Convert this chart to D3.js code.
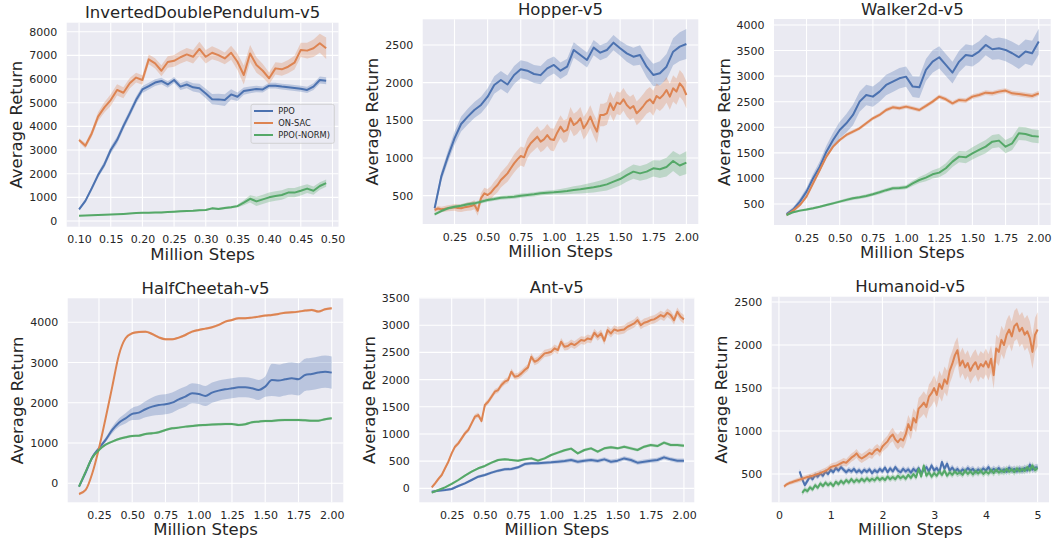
<!DOCTYPE html>
<html>
<head>
<meta charset="utf-8">
<script src="https://cdn.jsdelivr.net/npm/d3@7"></script>
<style>
  body { margin: 0; background: #fff; }
  text { font-family: "DejaVu Sans", sans-serif; fill: #262626; }
</style>
</head>
<body>
<svg id="chart" width="1056" height="546"></svg>
<script>
const ppoColor = "#4C72B0";
const sacColor = "#DD8452";
const normColor = "#55A868";
const seriesNames = ["PPO", "ON-SAC", "PPO(-NORM)"];

// regular evaluation grid (million steps)
function grid(start, step, n) {
    return d3.range(n).map(i => +(start + i * step).toFixed(4));
}

// InvertedDoublePendulum-v5 (every 0.01M from 0.10)
const idpPPO = [490, 850, 1380, 1940, 2390, 3000, 3420, 4010, 4550, 5110, 5560, 5700, 5850, 5920, 5770, 5960, 5680, 5770, 5650, 5610,
    5390, 5150, 5140, 5110, 5350, 5250, 5490, 5540, 5580, 5560, 5720, 5720, 5680, 5650, 5620, 5590, 5540, 5680, 5960, 5930];
const idpSAC = [3420, 3180, 3700, 4410, 4800, 5110, 5540, 5420, 5820, 6060, 5960, 6830, 6660, 6350, 6720, 6770, 6920, 7040, 6940, 7270,
    6940, 7110, 7010, 6870, 7110, 6730, 6170, 7080, 6590, 6350, 6030, 6450, 6410, 6520, 6690, 7230, 7200, 7300, 7510, 7300];
const idpNorm = [225, 235, 245, 255, 265, 275, 285, 300, 320, 335, 345, 350, 360, 365, 380, 395, 410, 420, 430, 460,
    465, 535, 510, 550, 580, 630, 775, 940, 830, 915, 1000, 1055, 1100, 1200, 1200, 1280, 1370, 1280, 1480, 1600];
const idpPPOSpread = [[0.10, 60], [0.15, 150], [0.20, 150], [0.25, 130], [0.30, 200], [0.33, 250], [0.36, 150], [0.40, 120], [0.45, 130], [0.49, 150]];
const idpSACSpread = [[0.10, 80], [0.15, 250], [0.20, 200], [0.25, 250], [0.29, 300], [0.33, 250], [0.36, 400], [0.40, 250], [0.45, 300], [0.48, 400], [0.49, 450]];
const idpNormSpread = [[0.10, 20], [0.30, 40], [0.35, 60], [0.38, 200], [0.45, 200], [0.49, 150]];

// Hopper-v5
const hopPPO = [332, 752, 1018, 1261, 1451, 1549, 1637, 1704, 1814, 1969, 2035, 1975, 2102, 2177, 2159, 2115, 2100, 2190, 2235, 2159,
    2212, 2434, 2367, 2301, 2465, 2398, 2434, 2531, 2456, 2389, 2345, 2367, 2212, 2102, 2124, 2212, 2411, 2478, 2513];
const hopSAC = [310, 330, 319, 325, 332, 338, 345, 335, 332, 345, 354, 362, 380, 300, 465, 531, 509, 540, 597, 642,
    708, 752, 796, 863, 929, 982, 1027, 1009, 1128, 1195, 1239, 1283, 1217, 1248, 1305, 1248, 1239, 1336, 1416, 1350,
    1372, 1527, 1438, 1469, 1527, 1394, 1460, 1549, 1438, 1350, 1571, 1571, 1593, 1726, 1637, 1735, 1717, 1779, 1704, 1659,
    1690, 1593, 1637, 1690, 1748, 1779, 1726, 1823, 1792, 1836, 1903, 1814, 1925, 1881, 1991, 1938, 1836];
const hopNorm = [252, 296, 332, 354, 367, 385, 398, 420, 442, 456, 473, 478, 487, 500, 509, 518, 531, 540, 544, 553,
    562, 575, 584, 597, 611, 628, 650, 686, 721, 774, 819, 796, 819, 863, 850, 880, 960, 900, 938];
const hopPPOSpread = [[0.1, 50], [0.3, 100], [0.6, 120], [0.9, 120], [1.2, 100], [1.5, 100], [1.75, 150], [2.0, 200]];
const hopSACSpread = [[0.1, 30], [0.4, 60], [0.7, 120], [1.0, 150], [1.5, 150], [2.0, 180]];
const hopNormSpread = [[0.1, 20], [1.0, 30], [1.4, 80], [1.7, 100], [2.0, 150]];

// Walker2d-v5
const walkPPO = [304, 396, 546, 741, 1002, 1230, 1523, 1752, 1947, 2078, 2241, 2501, 2632, 2599, 2697, 2827, 2892, 2958, 2990, 2795,
    2782, 3121, 3284, 3369, 3219, 3069, 3284, 3414, 3395, 3480, 3610, 3525, 3544, 3512, 3447, 3369, 3480, 3447, 3675];
const walkSAC = [285, 370, 480, 643, 904, 1165, 1426, 1621, 1752, 1850, 1915, 1980, 2078, 2175, 2241, 2338, 2390, 2371, 2404, 2371,
    2338, 2417, 2501, 2599, 2547, 2469, 2534, 2521, 2599, 2632, 2677, 2664, 2697, 2717, 2664, 2651, 2632, 2612, 2664];
const walkNorm = [285, 340, 370, 390, 415, 445, 480, 512, 546, 580, 611, 630, 656, 690, 728, 770, 806, 812, 826, 904,
    969, 1015, 1080, 1113, 1198, 1328, 1426, 1413, 1491, 1556, 1621, 1719, 1739, 1621, 1687, 1882, 1869, 1830, 1817];
const walkPPOSpread = [[0.1, 30], [0.4, 120], [0.6, 200], [1.0, 200], [1.2, 220], [1.6, 200], [2.0, 250]];
const walkSACSpread = [[0.1, 30], [2.0, 50]];
const walkNormSpread = [[0.1, 20], [1.0, 40], [1.3, 100], [1.6, 130], [2.0, 130]];

// HalfCheetah-v5
const hcPPO = [-83, 265, 646, 870, 1077, 1325, 1507, 1615, 1723, 1756, 1839, 1905, 1946, 1963, 2004, 2087, 2153, 2236, 2219, 2170,
    2252, 2302, 2335, 2360, 2385, 2385, 2360, 2319, 2402, 2567, 2551, 2584, 2609, 2584, 2692, 2716, 2750, 2774, 2750];
const hcSAC = [-265, -166, 248, 870, 1615, 2402, 3188, 3602, 3727, 3760, 3768, 3710, 3627, 3578, 3578, 3619, 3685, 3768, 3810, 3843,
    3876, 3934, 4017, 4058, 4099, 4099, 4116, 4141, 4166, 4182, 4207, 4240, 4248, 4265, 4290, 4306, 4265, 4323, 4348];
const hcNorm = [-83, 290, 638, 828, 961, 1035, 1101, 1143, 1176, 1184, 1225, 1242, 1267, 1325, 1366, 1383, 1408, 1424, 1441, 1449,
    1458, 1466, 1474, 1474, 1449, 1466, 1516, 1532, 1549, 1549, 1565, 1573, 1573, 1573, 1565, 1557, 1557, 1590, 1615];
const hcPPOSpread = [[0.1, 20], [0.3, 60], [0.5, 150], [0.7, 250], [1.0, 250], [1.5, 250], [1.55, 400], [2.0, 400]];
const hcSACSpread = [[0.1, 30], [2.0, 30]];
const hcNormSpread = [[0.1, 30], [2.0, 30]];

// Ant-v5
const antPPO = [-61, -43, -31, -12, 43, 92, 153, 214, 245, 288, 325, 349, 355, 386, 447, 460, 460, 472, 478, 490,
    502, 521, 490, 509, 521, 502, 533, 490, 509, 550, 521, 472, 490, 509, 521, 570, 533, 509, 509];
const antSAC = [18, 92, 172, 245, 368, 490, 643, 766, 827, 919, 1011, 1072, 1195, 1317, 1348, 1240, 1532, 1593, 1685, 1777,
    1808, 1900, 1961, 1991, 2145, 2053, 2065, 2114, 2175, 2224, 2420, 2328, 2359, 2420, 2482, 2494, 2512, 2574, 2543, 2696,
    2604, 2616, 2665, 2635, 2678, 2727, 2714, 2757, 2739, 2862, 2788, 2849, 2714, 2910, 2849, 2923, 2898, 2910, 2923, 2972,
    3002, 3033, 3094, 3002, 3045, 3064, 3094, 3107, 3143, 3186, 3156, 3229, 3186, 3094, 3247, 3156, 3107];
const antNorm = [-80, -31, 18, 80, 153, 233, 306, 368, 411, 472, 521, 533, 521, 509, 533, 551, 509, 551, 613, 656,
    700, 730, 643, 705, 735, 674, 735, 754, 735, 766, 735, 705, 766, 797, 778, 840, 797, 797, 784];
const antPPOSpread = [[0.1, 20], [1.5, 40], [2.0, 40]];
const antSACSpread = [[0.1, 30], [1.0, 70], [2.0, 80]];
const antNormSpread = [[0.1, 20], [2.0, 30]];

// Humanoid-v5 (every 0.05M)
const humPPO = [530, 440, 370, 420, 470, 440, 490, 470, 510, 480, 530, 500, 550, 520, 570, 540, 580, 550, 520, 550,
    530, 560, 520, 545, 515, 550, 525, 555, 510, 545, 520, 560, 530, 575, 520, 565, 530, 580, 540, 520,
    560, 530, 555, 515, 560, 530, 570, 510, 545, 580, 530, 600, 540, 570, 520, 640, 560, 620, 540, 575,
    530, 560, 520, 555, 530, 570, 540, 560, 520, 555, 530, 565, 540, 580, 530, 560, 535, 570, 530, 555,
    525, 575, 540, 560, 530, 565, 535, 570, 540, 610, 550, 575, 580];
const humSAC = [355, 380, 395, 405, 415, 425, 435, 445, 455, 465, 472, 480, 490, 500, 510, 525, 535, 555, 580, 590,
    595, 610, 625, 640, 630, 660, 690, 710, 740, 700, 680, 700, 720, 745, 730, 770, 790, 760, 820, 850,
    880, 930, 960, 900, 870, 910, 890, 960, 1080, 1010, 1150, 1100, 1260, 1290, 1330, 1280, 1400, 1440, 1500, 1420,
    1550, 1490, 1600, 1550, 1700, 1780, 1880, 1940, 1760, 1820, 1740, 1790, 1700, 1760, 1800, 1720, 1780, 1750, 1810, 1740,
    1840, 1650, 1960, 1920, 2060, 2000, 2120, 2180, 2100, 2220, 2250, 2160, 2200, 2120, 2160, 2080, 1920, 2120, 2180];
const humNorm = [280, 320, 300, 345, 320, 370, 340, 390, 360, 400, 370, 395, 360, 410, 380, 420, 390, 430, 400, 440,
    405, 435, 410, 445, 415, 450, 420, 445, 425, 460, 430, 455, 430, 470, 440, 465, 440, 480, 450, 475,
    445, 490, 455, 500, 460, 560, 470, 600, 480, 520, 470, 510, 480, 530, 490, 540, 480, 520, 490, 530,
    500, 520, 490, 540, 500, 530, 495, 535, 505, 540, 500, 530, 505, 545, 510, 550, 515, 540, 520, 560,
    525, 555, 520, 565, 530, 560, 535, 580, 540, 600, 545, 570];
const humPPOSpread = [[0.4, 30], [5.0, 40]];
const humSACSpread = [[0.1, 20], [1.0, 40], [2.0, 60], [3.0, 150], [4.0, 150], [5.0, 200]];
const humNormSpread = [[0.45, 30], [5.0, 40]];

// tick labels
const xTicksHalf = [0.10, 0.15, 0.20, 0.25, 0.30, 0.35, 0.40, 0.45, 0.50];
const xTicksTwo = [0.25, 0.50, 0.75, 1.00, 1.25, 1.50, 1.75, 2.00];
const xTicksFive = [0, 1, 2, 3, 4, 5];

const panels = [
    { title: "InvertedDoublePendulum-v5", box: { l: 66.7, r: 338.5, t: 22.7, b: 226.7 },
      xDomain: [0.0805, 0.5095], yDomain: [-240, 8380], xTicks: xTicksHalf, xFmt: d3.format(".2f"),
      yTicks: d3.range(0, 8001, 1000), legend: true, curve: d3.curveLinear,
      series: [
          { values: idpPPO, start: 0.10, step: 0.01, spread: idpPPOSpread, color: ppoColor },
          { values: idpSAC, start: 0.10, step: 0.01, spread: idpSACSpread, color: sacColor },
          { values: idpNorm, start: 0.10, step: 0.01, spread: idpNormSpread, color: normColor }] },
    { title: "Hopper-v5", box: { l: 422.7, r: 698.3, t: 19.3, b: 224 },
      xDomain: [0.01, 2.09], yDomain: [124, 2841], xTicks: xTicksTwo, xFmt: d3.format(".2f"),
      yTicks: [500, 1000, 1500, 2000, 2500], curve: d3.curveLinear,
      series: [
          { values: hopPPO, start: 0.10, step: 0.05, spread: hopPPOSpread, color: ppoColor },
          { values: hopSAC, start: 0.10, step: 0.025, spread: hopSACSpread, color: sacColor },
          { values: hopNorm, start: 0.10, step: 0.05, spread: hopNormSpread, color: normColor }] },
    { title: "Walker2d-v5", box: { l: 774, r: 1050.7, t: 19, b: 225 },
      xDomain: [0.005, 2.09], yDomain: [89, 4117], xTicks: xTicksTwo, xFmt: d3.format(".2f"),
      yTicks: d3.range(500, 4001, 500), curve: d3.curveLinear,
      series: [
          { values: walkPPO, start: 0.10, step: 0.05, spread: walkPPOSpread, color: ppoColor },
          { values: walkSAC, start: 0.10, step: 0.05, spread: walkSACSpread, color: sacColor },
          { values: walkNorm, start: 0.10, step: 0.05, spread: walkNormSpread, color: normColor }] },
    { title: "HalfCheetah-v5", box: { l: 67.7, r: 343.3, t: 298.3, b: 502.3 },
      xDomain: [0.015, 2.087], yDomain: [-472, 4596], xTicks: xTicksTwo, xFmt: d3.format(".2f"),
      yTicks: [0, 1000, 2000, 3000, 4000], curve: d3.curveMonotoneX,
      series: [
          { values: hcPPO, start: 0.10, step: 0.05, spread: hcPPOSpread, color: ppoColor },
          { values: hcSAC, start: 0.10, step: 0.05, spread: hcSACSpread, color: sacColor },
          { values: hcNorm, start: 0.10, step: 0.05, spread: hcNormSpread, color: normColor }] },
    { title: "Ant-v5", box: { l: 419.3, r: 694.3, t: 297.7, b: 502.3 },
      xDomain: [0.006, 2.078], yDomain: [-257, 3506], xTicks: xTicksTwo, xFmt: d3.format(".2f"),
      yTicks: d3.range(0, 3501, 500), curve: d3.curveLinear,
      series: [
          { values: antPPO, start: 0.10, step: 0.05, spread: antPPOSpread, color: ppoColor },
          { values: antSAC, start: 0.10, step: 0.025, spread: antSACSpread, color: sacColor },
          { values: antNorm, start: 0.10, step: 0.05, spread: antNormSpread, color: normColor }] },
    { title: "Humanoid-v5", box: { l: 771.7, r: 1049, t: 296.7, b: 502.3 },
      xDomain: [-0.14, 5.22], yDomain: [171, 2562], xTicks: xTicksFive, xFmt: d3.format("d"),
      yTicks: [500, 1000, 1500, 2000, 2500], curve: d3.curveLinear,
      series: [
          { values: humPPO, start: 0.40, step: 0.05, spread: humPPOSpread, color: ppoColor },
          { values: humSAC, start: 0.10, step: 0.05, spread: humSACSpread, color: sacColor },
          { values: humNorm, start: 0.45, step: 0.05, spread: humNormSpread, color: normColor }] }
];

const svg = d3.select("#chart");

function drawPanel(p, idx) {
    const { l, r, t, b } = p.box;
    const g = svg.append("g");
    const x = d3.scaleLinear().domain(p.xDomain).range([l, r]);
    const y = d3.scaleLinear().domain(p.yDomain).range([b, t]);

    g.append("rect")
        .attr("x", l).attr("y", t)
        .attr("width", r - l).attr("height", b - t)
        .attr("fill", "#EAEAF2");

    const clipId = "clip" + idx;
    g.append("clipPath").attr("id", clipId)
        .append("rect")
        .attr("x", l).attr("y", t)
        .attr("width", r - l).attr("height", b - t);

    // white grid
    g.append("g").selectAll("line")
        .data(p.xTicks)
        .join("line")
        .attr("x1", d => x(d)).attr("x2", d => x(d))
        .attr("y1", t).attr("y2", b)
        .attr("stroke", "#fff").attr("stroke-width", 1.1);
    g.append("g").selectAll("line")
        .data(p.yTicks)
        .join("line")
        .attr("x1", l).attr("x2", r)
        .attr("y1", d => y(d)).attr("y2", d => y(d))
        .attr("stroke", "#fff").attr("stroke-width", 1.1);

    // curves
    const plot = g.append("g").attr("clip-path", `url(#${clipId})`);
    p.series.forEach(s => {
        const steps = grid(s.start, s.step, s.values.length);
        const spread = d3.scaleLinear()
            .domain(s.spread.map(k => k[0]))
            .range(s.spread.map(k => k[1]))
            .clamp(true);
        const pts = steps.map((st, i) => ({ st, v: s.values[i] }));

        const band = d3.area()
            .x(d => x(d.st))
            .y0(d => y(d.v - spread(d.st)))
            .y1(d => y(d.v + spread(d.st)))
            .curve(p.curve);
        const line = d3.line()
            .x(d => x(d.st))
            .y(d => y(d.v))
            .curve(p.curve);

        plot.append("path").datum(pts)
            .attr("d", band)
            .attr("fill", s.color)
            .attr("fill-opacity", 0.3);
        plot.append("path").datum(pts)
            .attr("d", line)
            .attr("fill", "none")
            .attr("stroke", s.color)
            .attr("stroke-width", 2)
            .attr("stroke-linejoin", "round");
    });

    // axes
    const xAxis = g.append("g")
        .attr("transform", `translate(0,${b})`)
        .call(d3.axisBottom(x).tickValues(p.xTicks).tickFormat(p.xFmt).tickSize(0).tickPadding(8.7));
    const yAxis = g.append("g")
        .attr("transform", `translate(${l},0)`)
        .call(d3.axisLeft(y).tickValues(p.yTicks).tickFormat(d3.format("d")).tickSize(0).tickPadding(9.5));
    [xAxis, yAxis].forEach(a => {
        a.select(".domain").remove();
        a.attr("font-family", null).attr("font-size", null);
        a.selectAll("text").attr("font-size", 11).attr("fill", "#262626");
    });

    g.append("text")
        .attr("x", (l + r) / 2).attr("y", t - 4.5)
        .attr("text-anchor", "middle")
        .attr("font-size", 16.5)
        .text(p.title);
    g.append("text")
        .attr("x", (l + r) / 2).attr("y", b + 33)
        .attr("text-anchor", "middle")
        .attr("font-size", 16.5)
        .text("Million Steps");
    g.append("text")
        .attr("transform", `translate(${l - 44.5},${(t + b) / 2}) rotate(-90)`)
        .attr("text-anchor", "middle")
        .attr("font-size", 16.5)
        .text("Average Return");

    if (p.legend) {
        const lg = g.append("g");
        lg.append("rect")
            .attr("x", 251).attr("y", 104.3)
            .attr("width", 83.3).attr("height", 39)
            .attr("rx", 2)
            .attr("fill", "#EAEAF2").attr("fill-opacity", 0.8)
            .attr("stroke", "#cccccc").attr("stroke-width", 0.8);
        lg.selectAll("line")
            .data(p.series)
            .join("line")
            .attr("x1", 254).attr("x2", 273)
            .attr("y1", (d, i) => 111 + i * 12)
            .attr("y2", (d, i) => 111 + i * 12)
            .attr("stroke", d => d.color)
            .attr("stroke-width", 2);
        lg.selectAll("text")
            .data(seriesNames)
            .join("text")
            .attr("x", 278.3)
            .attr("y", (d, i) => 111 + i * 12)
            .attr("dy", "0.35em")
            .attr("font-size", 8.3)
            .text(d => d);
    }
}

panels.forEach(drawPanel);
</script>
</body>
</html>
